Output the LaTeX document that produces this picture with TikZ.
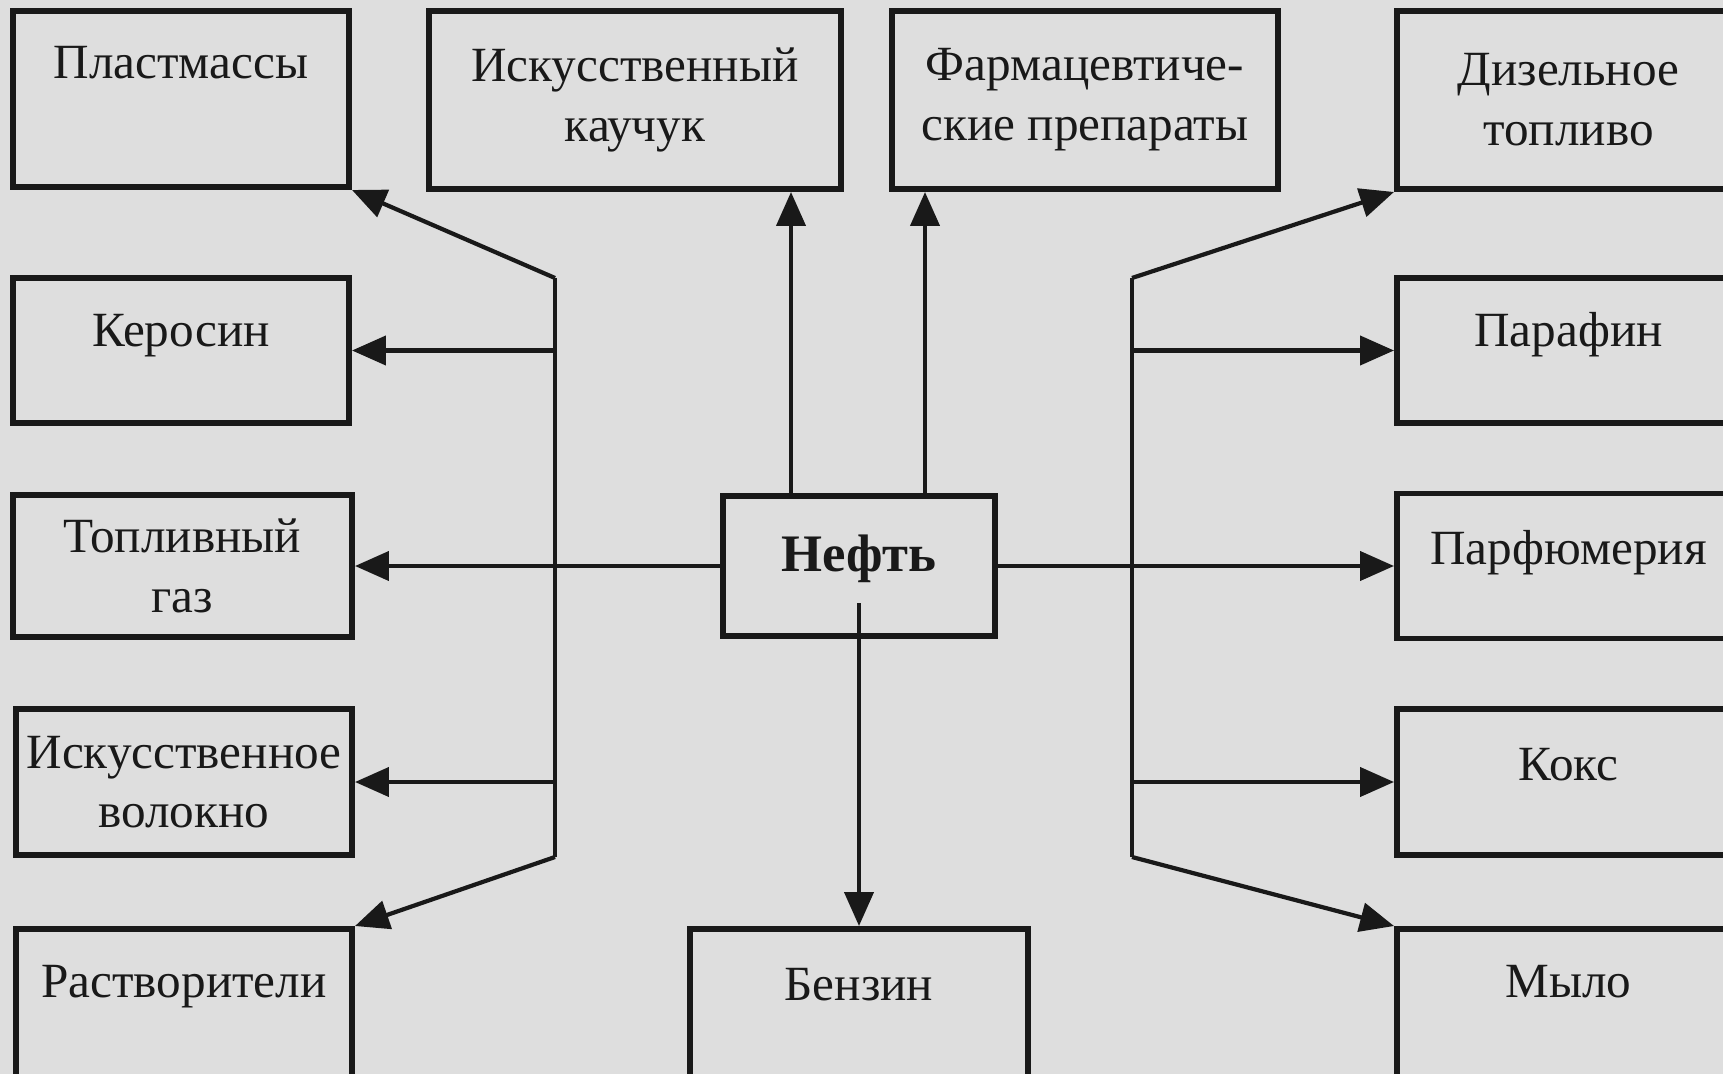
\documentclass[tikz,border=0pt]{standalone}
\usepackage{fontspec}
\setmainfont{Liberation Serif}
\usetikzlibrary{arrows.meta}
\usetikzlibrary{positioning}

\begin{document}
\begin{tikzpicture}
[post/.style = {-{Triangle[length = 3.4mm, width = 2.9mm]}, line width = 1.2pt, black!90},
bus/.style = {line width = 1.2pt, black!90},
product/.style = {rectangle, draw = black!90, line width = 1.7pt, align = center, inner sep = 0pt, text = black!90, font = \fontsize{14}{17}\selectfont},
lift/.style = {text height = 0.33cm, text depth = #1},
source/.style = {product, font = \fontsize{15}{18}\selectfont\bfseries}]

\clip (0, 0) rectangle (17.23, -10.74);
\fill[black!13] (0, 0) rectangle (17.23, -10.74);

% top row
\node[product, lift = 0.73cm, minimum width = 3.36cm, minimum height = 1.76cm] (plast) at (1.81, -0.99) {Пластмассы};
\node[product, minimum width = 4.12cm, minimum height = 1.78cm] (kauch) at (6.35, -1.00) {Искусственный\\каучук};
\node[product, minimum width = 3.86cm, minimum height = 1.78cm] (farm) at (10.85, -1.00) {Фармацевтиче-\\ские препараты};
\node[product, minimum width = 3.43cm, minimum height = 1.78cm] (dies) at (15.685, -1.00) {Дизельное\\топливо};

% left column
\node[product, lift = 0.42cm, minimum width = 3.36cm, minimum height = 1.45cm] (kero) at (1.81, -3.505) {Керосин};
\node[product, minimum width = 3.39cm, minimum height = 1.42cm] (gas) at (1.825, -5.66) {Топливный\\газ};
\node[product, minimum width = 3.36cm, minimum height = 1.46cm] (volok) at (1.84, -7.82) {Искусственное\\волокно};
\node[product, lift = 0.58cm, minimum width = 3.36cm, minimum height = 1.61cm] (rast) at (1.84, -10.095) {Растворители};

% centre
\node[source, lift = 0.23cm, minimum width = 2.72cm, minimum height = 1.40cm] (neft) at (8.59, -5.66) {Нефть};
\node[product, lift = 0.52cm, minimum width = 3.38cm, minimum height = 1.61cm] (benz) at (8.59, -10.095) {Бензин};

% right column
\node[product, lift = 0.42cm, minimum width = 3.43cm, minimum height = 1.45cm] (paraf) at (15.685, -3.505) {Парафин};
\node[product, lift = 0.37cm, minimum width = 3.43cm, minimum height = 1.45cm] (parf) at (15.685, -5.66) {Парфюмерия};
\node[product, lift = 0.37cm, minimum width = 3.43cm, minimum height = 1.46cm] (koks) at (15.685, -7.82) {Кокс};
\node[product, lift = 0.58cm, minimum width = 3.43cm, minimum height = 1.61cm] (mylo) at (15.685, -10.095) {Мыло};

% buses
\coordinate (lt) at (5.55, -2.78);
\coordinate (lb) at (5.55, -8.57);
\coordinate (rt) at (11.32, -2.78);
\coordinate (rb) at (11.32, -8.57);
\draw[bus] (lt) -- (lb);
\draw[bus] (rt) -- (rb);

\draw[post] (lt) -- (plast.south east);
\draw[post] (lb) -- (rast.north east);
\draw[post] (lt |- kero.east) -- (kero.east);
\draw[post] (lb |- volok.east) -- (volok.east);
\draw[post] (neft.west) -- (gas.east);

\draw[post] (rt) -- (dies.south west);
\draw[post] (rb) -- (mylo.north west);
\draw[post] (rt |- paraf.west) -- (paraf.west);
\draw[post] (rb |- koks.west) -- (koks.west);
\draw[post] (neft.east) -- (parf.west);

\draw[post] ([xshift = -0.68cm]neft.north) -- ([xshift = -0.68cm]neft.north |- kauch.south);
\draw[post] ([xshift = 0.66cm]neft.north) -- ([xshift = 0.66cm]neft.north |- farm.south);
\draw[post] ([yshift = -0.37cm]neft.center) -- (benz.north);
\end{tikzpicture}
\end{document}
